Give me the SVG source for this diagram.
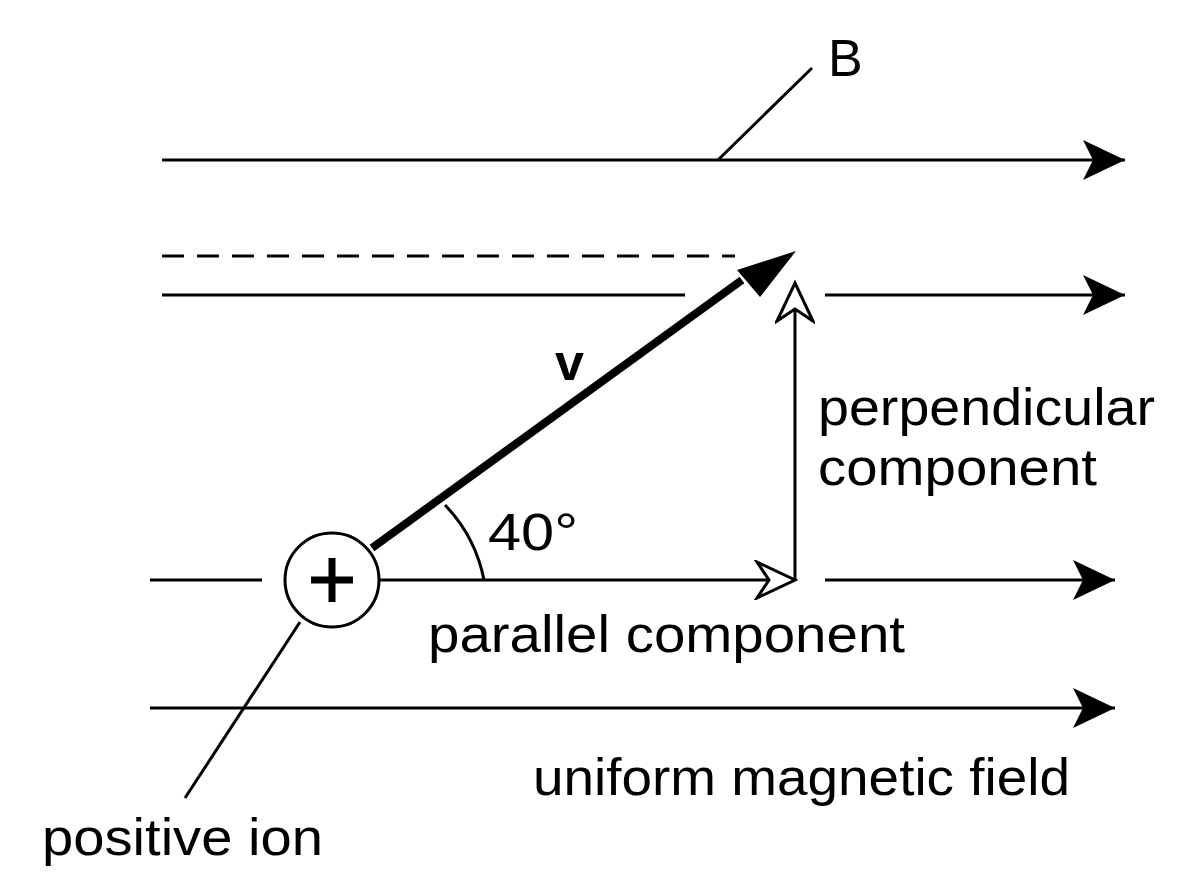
<svg xmlns="http://www.w3.org/2000/svg" width="1200" height="896" viewBox="0 0 1200 896">
<style>
.l{stroke:#000;stroke-width:3;fill:none}
.t{font-family:"Liberation Sans",Arial,sans-serif;font-size:52px;fill:#000}
</style>
<defs>
<marker id="a" markerUnits="userSpaceOnUse" markerWidth="50" markerHeight="40" refX="42" refY="20" orient="auto"><path d="M0,0 L42,20 L0,40 L10,20 Z" fill="#000"/></marker>
<marker id="h" markerUnits="userSpaceOnUse" markerWidth="50" markerHeight="40" refX="42" refY="20" orient="auto"><path d="M4,2 L42,20 L4,38 L16,20 Z" fill="#fff" stroke="#000" stroke-width="3"/></marker>
</defs>
<g id="connectors">
<line class="l" x1="162" y1="160" x2="1125" y2="160" marker-end="url(#a)"/>
<line class="l" x1="162" y1="256" x2="735" y2="256" stroke-dasharray="22,13"/>
<line class="l" x1="162" y1="295" x2="685" y2="295"/>
<line class="l" x1="825" y1="295" x2="1125" y2="295" marker-end="url(#a)"/>
<line class="l" x1="150" y1="580" x2="262" y2="580"/>
<line class="l" x1="380" y1="580" x2="795" y2="580" marker-end="url(#h)"/>
<line class="l" x1="825" y1="580" x2="1115" y2="580" marker-end="url(#a)"/>
<line class="l" x1="150" y1="708" x2="1115" y2="708" marker-end="url(#a)"/>
<line class="l" x1="795" y1="580" x2="795" y2="283" marker-end="url(#h)"/>
<line class="l" x1="718" y1="160" x2="812" y2="68"/>
<line class="l" x1="300" y1="622" x2="185" y2="798"/>
<path d="M372,548 L742,280" stroke="#000" stroke-width="8" fill="none"/>
<path d="M796,251 L737,270 L760,297 Z" fill="#000"/>
<path class="l" d="M484,580 A150,150 0 0 0 445,505"/>
</g>
<g id="ion">
<circle cx="332" cy="580" r="47" fill="#fff" stroke="#000" stroke-width="3"/>
<path d="M311,580 H353 M332,558 V602" stroke="#000" stroke-width="7"/>
</g>
<g id="labels">
<text class="t" x="828" y="76" textLength="35">B</text>
<text class="t" x="555" y="380" font-weight="bold">v</text>
<text class="t" x="488" y="550" textLength="90" lengthAdjust="spacingAndGlyphs">40°</text>
<text class="t" x="818" y="425" textLength="337" lengthAdjust="spacingAndGlyphs">perpendicular</text>
<text class="t" x="818" y="485" textLength="279" lengthAdjust="spacingAndGlyphs">component</text>
<text class="t" x="428" y="652" textLength="477" lengthAdjust="spacingAndGlyphs">parallel component</text>
<text class="t" x="533" y="795" textLength="537" lengthAdjust="spacingAndGlyphs">uniform magnetic field</text>
<text class="t" x="42" y="855" textLength="281" lengthAdjust="spacingAndGlyphs">positive ion</text>
</g>
</svg>
